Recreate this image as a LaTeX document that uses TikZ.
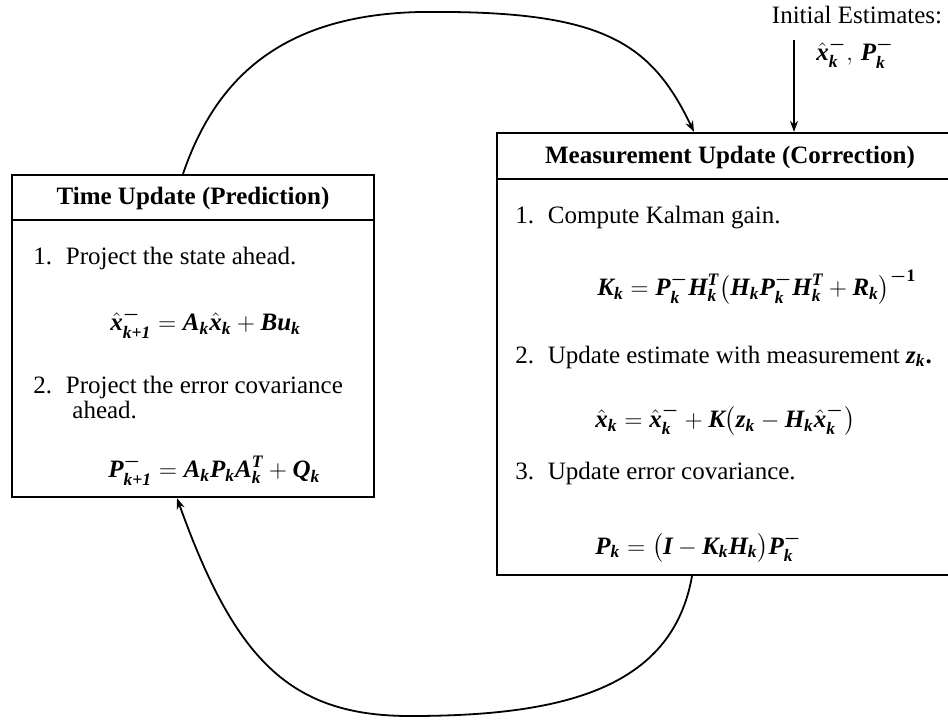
\documentclass[tikz,border=0pt]{standalone}
\usepackage{amsmath}
\usepackage{fontspec}
\setmainfont{Liberation Serif}
\usetikzlibrary{arrows.meta}

\newcommand{\mv}[1]{\text{\bfseries\itshape #1}}
\newcommand{\kk}{\mv{k}}
\newcommand{\mn}{\boldsymbol{-}}
\newcommand{\itm}[2]{\makebox[1.3em][l]{#1.}#2}

\tikzset{
  box/.style={draw, line width=1.1pt, rectangle, inner sep=0pt},
  ttl/.style={font=\fontsize{12.5}{14}\selectfont\bfseries},
  txt/.style={anchor=west, inner sep=0pt},
  eqn/.style={anchor=west, inner sep=0pt},
  arr/.style={-{Stealth[length=5.5pt,width=4pt]}, line width=0.9pt},
}

\begin{document}
\begin{tikzpicture}[x=0.5pt,y=-0.5pt,font=\fontsize{12.5}{14}\selectfont]
    \useasboundingbox (0,0) rectangle (948,719);

    % Boxes
    \node[box, minimum width=181pt, minimum height=161pt] (tu) at (193,336) {};
    \node[box, minimum width=227.5pt, minimum height=221pt] (mu) at (724.5,354) {};
    \draw[line width=1.1pt] ([yshift=-23pt]tu.north west) -- ([yshift=-23pt]tu.north east);
    \draw[line width=1.1pt] ([yshift=-23.5pt]mu.north west) -- ([yshift=-23.5pt]mu.north east);

    % Titles
    \node[ttl] (tuTitle) at (193,198) {Time Update (Prediction)};
    \node[ttl] (muTitle) at (730,157) {Measurement Update (Correction)};

    % Time update
    \node[txt] (tu1) at (33,258) {\itm{1}{Project the state ahead.}};
    \node[eqn] (tuEq1) at (110,323) {$\hat{\mv{x}}^{\mn}_{\mv{k+1}} = \mv{A}_{\kk}\hat{\mv{x}}_{\kk} + \mv{Bu}_{\kk}$};
    \node[txt] (tu2) at (33,387) {\itm{2}{Project the error covariance}};
    \node[txt] (tu2b) at (72,410) {ahead.};
    \node[eqn] (tuEq2) at (108,470) {$\mv{P}^{\mn}_{\mv{k+1}} = \mv{A}_{\kk}\mv{P}_{\kk}\mv{A}^{\mv{T}}_{\kk} + \mv{Q}_{\kk}$};

    % Measurement update
    \node[txt] (mu1) at (515,218) {\itm{1}{Compute Kalman gain.}};
    \node[eqn] (muEq1) at (597,287) {$\mv{K}_{\kk} = \mv{P}^{\mn}_{\kk}\mv{H}^{\mv{T}}_{\kk}\bigl(\mv{H}_{\kk}\mv{P}^{\mn}_{\kk}\mv{H}^{\mv{T}}_{\kk} + \mv{R}_{\kk}\bigr)^{\mn\mathbf{1}}$};
    \node[txt] (mu2) at (515,357) {\itm{2}{Update estimate with measurement $\mv{z}_{\kk}$\textbf{.}}};
    \node[eqn] (muEq2) at (595,420) {$\hat{\mv{x}}_{\kk} = \hat{\mv{x}}^{\mn}_{\kk} + \mv{K}\bigl(\mv{z}_{\kk} - \mv{H}_{\kk}\hat{\mv{x}}^{\mn}_{\kk}\bigr)$};
    \node[txt] (mu3) at (515,473) {\itm{3}{Update error covariance.}};
    \node[eqn] (muEq3) at (595,547) {$\mv{P}_{\kk} = \bigl(\mv{I} - \mv{K}_{\kk}\mv{H}_{\kk}\bigr)\mv{P}^{\mn}_{\kk}$};

    % Initial estimates
    \node (init) at (857,15) {Initial Estimates:};
    \node (initVal) at (855,53) {$\hat{\mv{x}}^{\mn}_{\kk},\, \mv{P}^{\mn}_{\kk}$};
    \coordinate (initTop) at (794,40);
    \draw[arr] (initTop) -- (mu.north -| initTop);

    % Loop arrows
    \draw[arr] ([xshift=-5pt]tu.north) .. controls (215,80) and (280,15) .. (420,12)
        .. controls (600,10) and (650,40) .. ([xshift=-15.25pt]mu.north);
    \draw[arr] ([xshift=-16.25pt]mu.south) .. controls (672,690) and (560,716) .. (410,716)
        .. controls (290,716) and (235,660) .. ([xshift=-8pt]tu.south);
\end{tikzpicture}
\end{document}
